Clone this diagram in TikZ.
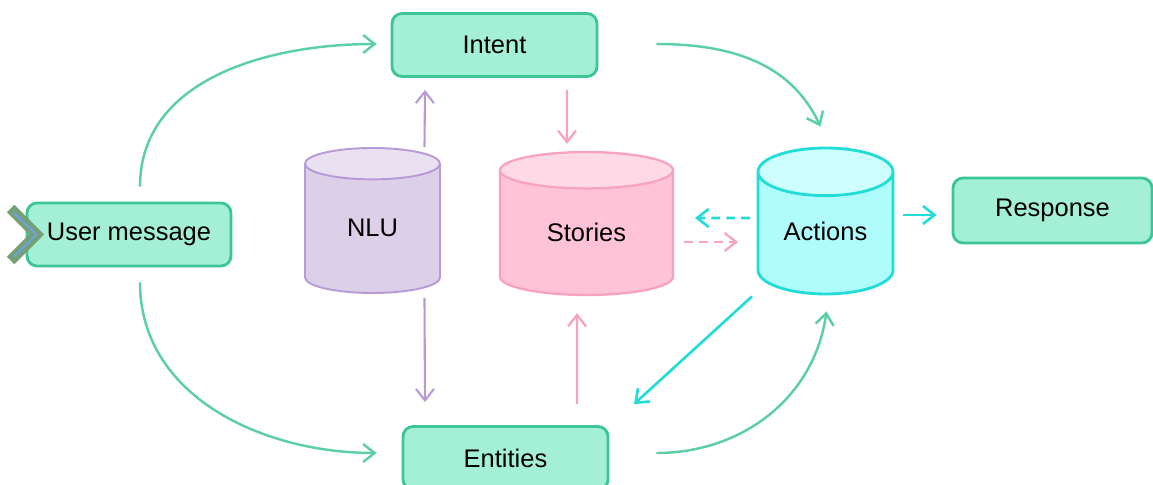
\documentclass[tikz,border=0pt]{standalone}
\usepackage{fontspec}
\setmainfont{Liberation Sans}
\usetikzlibrary{shapes.geometric,arrows.meta,calc}

\definecolor{mint}{HTML}{A3F0D6}
\definecolor{mintline}{HTML}{3CC49A}
\definecolor{flow}{HTML}{5DCFA8}
\definecolor{nlufill}{HTML}{DCD0E8}
\definecolor{nlutop}{HTML}{E9E1F2}
\definecolor{nluline}{HTML}{B89BD6}
\definecolor{storyfill}{HTML}{FFC2D6}
\definecolor{storytop}{HTML}{FFDAE6}
\definecolor{storyline}{HTML}{F7A3C0}
\definecolor{actfill}{HTML}{AEFCFB}
\definecolor{acttop}{HTML}{CCFFFE}
\definecolor{actline}{HTML}{22DDD6}

\begin{document}
\begin{tikzpicture}[x=0.02cm, y=0.02cm,
    font=\fontsize{14.5}{17}\selectfont,
    box/.style={draw=mintline, fill=mint, line width=1.6pt, rounded corners=0.2cm,
        minimum width=4.1cm, minimum height=1.26cm},
    store/.style={cylinder, shape border rotate=90, cylinder uses custom fill, aspect=0.5,
        anchor=shape center},
    tip/.style={-{Straight Barb[length=2.3mm,width=3.6mm]}},
    flowline/.style={tip, draw=flow, line width=1.4pt},
    nluarrow/.style={tip, draw=nluline, line width=1.2pt},
    storyarrow/.style={tip, draw=storyline, line width=1.3pt},
    actarrow/.style={tip, draw=actline, line width=1.5pt},
    dashline/.style={dash pattern=on 5pt off 3.5pt}]

    \useasboundingbox (0,0) rectangle (1153,484);

    % Boxes
    \node[box] (intent) at (494.5,439) {Intent};
    \node[box, minimum width=4.08cm] (user) at (129,249.5) {User message};
    \node[box, minimum width=3.98cm, minimum height=1.3cm] (response) at (1052.5,273.5) {Response};
    \node[box] (entities) at (505.5,26) {Entities};

    % Chevron on the user message
    \draw[draw=black!10!green!20!gray!90, line width=6pt] ([shift={(-15,26)}]user.west) -- ([shift={(11,0)}]user.west) -- ([shift={(-15,-26)}]user.west);
    \draw[draw=cyan!60!blue!60, line width=1.2pt] ([shift={(-12,22)}]user.west) -- ([shift={(11,0)}]user.west) -- ([shift={(-12,-22)}]user.west);

    % Stores
    \node[store, draw=nluline, line width=1.1pt, cylinder body fill=nlufill, cylinder end fill=nlutop,
        minimum width=2.7cm, minimum height=2.9cm] (nlu) at (372.5,263.5) {\raisebox{0.16cm}{NLU}};
    \node[store, draw=storyline, line width=1.3pt, cylinder body fill=storyfill, cylinder end fill=storytop,
        aspect=0.4, minimum width=3.46cm, minimum height=2.86cm] (stories) at (586.5,260.5) {\raisebox{0.16cm}{Stories}};
    \node[store, draw=actline, line width=1.6pt, cylinder body fill=actfill, cylinder end fill=acttop,
        minimum width=2.7cm, minimum height=2.92cm] (actions) at (825.5,263) {\raisebox{0.3cm}{Actions}};

    % Main flow
    \draw[flowline] ($(user.north)+(11,15)$) to[out=90, in=180] ($(intent.west)+(-14,1)$);
    \draw[flowline] ($(user.south)+(11,-15)$) to[out=-90, in=180] ($(entities.west)+(-25,5)$);
    \draw[flowline] ($(intent.east)+(58,1)$) to[out=0, in=115] ($(actions.north)+(-5,20)$);
    \draw[flowline] ($(entities.east)+(47,5)$) to[out=0, in=-98] ($(actions.south)+(1,-16)$);

    % NLU
    \draw[nluarrow] ($(nlu.north)+(52,0)$) -- ($(intent.south)+(-69.5,-12)$);
    \draw[nluarrow] ($(nlu.south)+(52,-4)$) -- ($(entities.north)+(-80.5,23)$);

    % Stories
    \draw[storyarrow] ($(intent.south)+(72.5,-12)$) -- ($(stories.north)+(-19.5,7)$);
    \draw[storyarrow] ($(entities.north)+(71.5,21)$) -- ($(stories.south)+(-9.5,-17)$);
    \draw[storyarrow, dashline] ($(stories.shape center)+(97.5,-18.5)$) -- ($(actions.shape center)+(-87.5,-21)$);

    % Actions
    \draw[actarrow, dashline] ($(actions.shape center)+(-75.5,3)$) -- ($(stories.shape center)+(108.5,5.5)$);
    \draw[actarrow] ($(actions.shape center)+(77.5,6)$) -- ($(response.west)+(-15,-4.5)$);
    \draw[actarrow] ($(actions.south)+(-73.5,-1)$) -- ($(entities.north)+(128.5,21)$);

\end{tikzpicture}
\end{document}
